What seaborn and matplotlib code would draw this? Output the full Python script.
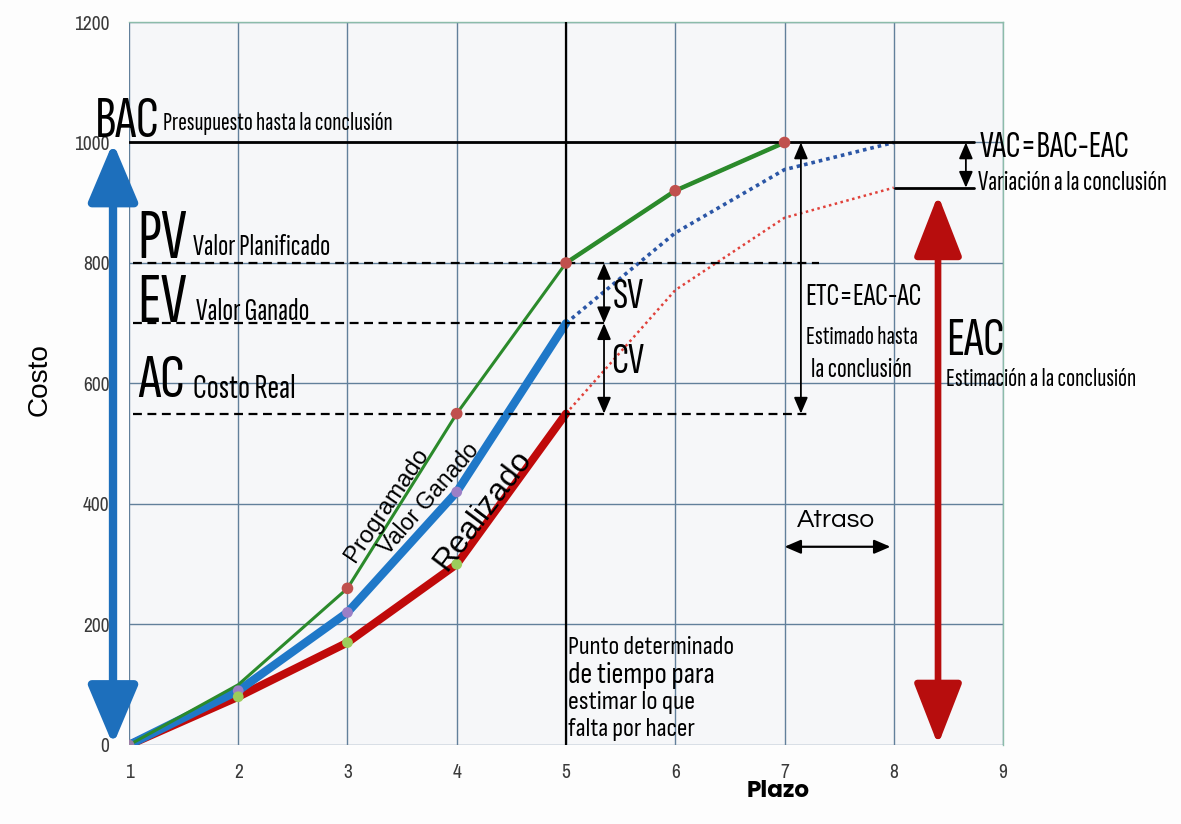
import matplotlib
matplotlib.use("Agg")
import matplotlib.pyplot as plt
import seaborn as sns
from matplotlib.patches import FancyArrowPatch

# ---------------- data ----------------
plazo = [1, 2, 3, 4, 5, 6, 7]
programado = [0, 100, 260, 550, 800, 920, 1000]
plazo_real = [1, 2, 3, 4, 5]
valor_ganado = [0, 90, 220, 420, 700]
realizado = [0, 80, 170, 300, 550]
plazo_proy = [5, 6, 7, 8]
ev_proyectado = [700, 850, 955, 1000]
ac_proyectado = [550, 755, 875, 925]

BAC, PV, EV, AC, EAC = 1000, 800, 700, 550, 925
x_ticks = [1, 2, 3, 4, 5, 6, 7, 8, 9]
y_ticks = [0, 200, 400, 600, 800, 1000, 1200]

# ---------------- style ----------------
sns.set_theme(style="whitegrid")
COND = ["Sofia Sans Extra Condensed", "Barlow Condensed", "DejaVu Sans"]
NARROW = ["Archivo Narrow", "PT Sans Narrow", "DejaVu Sans"]
ARIAL = ["Liberation Sans", "DejaVu Sans"]
plt.rcParams["font.family"] = COND

fig = plt.figure(figsize=(11.81, 8.24), dpi=100)
fig.patch.set_facecolor("#fdfdfd")
ax = fig.add_axes([0.1092, 0.0959, 0.7401, 0.8774])
ax.set_facecolor("#f6f7f9")
ax.set_xlim(1, 9)
ax.set_ylim(0, 1200)
ax.set_xticks(x_ticks)
ax.set_yticks(y_ticks)
ax.grid(True, color="#62809b", lw=1.0)
for k, s in ax.spines.items():
    s.set_visible(k in ("top", "right"))
    s.set_color("#8cbcaa")
    s.set_linewidth(1.0)
ax.tick_params(axis="both", length=0, labelsize=14, labelcolor="#3a3a3a")
for lab in ax.get_xticklabels() + ax.get_yticklabels():
    lab.set_family(NARROW)
ax.tick_params(axis="x", pad=13)
ax.tick_params(axis="y", pad=14)

GREEN = "#2b8a2b"
BLUE = "#1f78c8"
RED = "#c00a0a"

# projected (dotted)
sns.lineplot(x=plazo_proy, y=ev_proyectado, ax=ax, color="#2b56a6", lw=2.6,
             linestyle=(0, (1, 1.1)), zorder=3)
sns.lineplot(x=plazo_proy, y=ac_proyectado, ax=ax, color="#e0413a", lw=1.8,
             linestyle=(0, (1, 1.4)), zorder=3)
# actual
sns.lineplot(x=plazo_real, y=realizado, ax=ax, color=RED, lw=5.8, zorder=4)
sns.lineplot(x=plazo_real, y=valor_ganado, ax=ax, color=BLUE, lw=6, zorder=5)
sns.lineplot(x=plazo, y=programado, ax=ax, color=GREEN, lw=2.2, zorder=6)
sns.lineplot(x=plazo[4:], y=programado[4:], ax=ax, color=GREEN, lw=3.2, zorder=6)

# markers
sns.scatterplot(x=plazo[2:], y=programado[2:], ax=ax, color="#c0504d", s=70,
                edgecolor="none", zorder=7)
sns.scatterplot(x=plazo_real[1:4], y=valor_ganado[1:4], ax=ax, color="#9b7fc6", s=60,
                edgecolor="none", zorder=7)
sns.scatterplot(x=plazo_real[1:4], y=realizado[1:4], ax=ax, color="#9ccc5c", s=60,
                edgecolor="none", zorder=7)
sns.scatterplot(x=plazo_real[:1], y=realizado[:1], ax=ax, color="#9b7fa6", s=60,
                edgecolor="none", zorder=7)

# reference lines
ax.plot([1.0, 8.735], [BAC, BAC], color="black", lw=2, zorder=6)
ax.plot([8.01, 8.73], [EAC, EAC], color="black", lw=2, zorder=6)
ax.plot([1.04, 7.32], [PV, PV], color="black", lw=1.6, dashes=(4, 2.5), zorder=6)
ax.plot([1.04, 5.375], [EV, EV], color="black", lw=1.6, dashes=(4, 2.5), zorder=6)
ax.plot([1.04, 7.24], [AC, AC], color="black", lw=1.6, dashes=(4, 2.5), zorder=6)
ax.plot([5, 5], [0, 1200], color="black", lw=1.6, zorder=6)


def darrow(x0, y0, x1, y1, color="black", lw=1.3, hl=0.7, hw=0.3, ms=14):
    a = FancyArrowPatch((x0, y0), (x1, y1),
                        arrowstyle=f"<|-|>,head_length={hl},head_width={hw}",
                        mutation_scale=ms, color=color, lw=lw, clip_on=False,
                        shrinkA=0, shrinkB=0, zorder=8)
    ax.add_patch(a)


# big arrows
darrow(0.854, 0, 0.854, BAC, color="#1d6fbc", lw=6, hl=1.8, hw=0.76, ms=20)
darrow(8.405, 0, 8.405, 913, color="#b70d0d", lw=4.8, hl=1.9, hw=0.74, ms=20)
# small arrows
darrow(5.348, PV, 5.348, EV)
darrow(5.348, EV, 5.348, AC)
darrow(7.15, BAC, 7.15, AC)
darrow(8.66, BAC, 8.66, EAC)
darrow(7.0, 329, 7.97, 329, lw=1.6)

# ---------------- texts ----------------
renderer = fig.canvas.get_renderer()


def txt(x, y, s, width, fs=20, rot=0, **kw):
    opts = dict(color="black", clip_on=False, zorder=9, ha="left", va="center")
    opts.update(kw)
    t = ax.text(x, y, s, fontsize=fs, **opts)
    bb = t.get_window_extent(renderer)
    t.set_fontsize(fs * width / bb.width)
    if rot:
        t.set_rotation(rot)
    return t


txt(0.689, 1009, "BAC", 65, va="baseline")
txt(1.311, 1021, "Presupuesto hasta la conclusión", 229, va="baseline")
txt(1.073, 808, "PV", 50, va="baseline")
txt(1.586, 813, "Valor Planificado", 137, va="baseline")
txt(1.073, 702, "EV", 50, va="baseline")
txt(1.613, 705, "Valor Ganado", 113, va="baseline")
txt(1.082, 578, "AC", 47, va="baseline")
txt(1.586, 576, "Costo Real", 102, va="baseline")

txt(5.43, 744, "SV", 31)
txt(5.412, 636, "CV", 33)
txt(7.188, 744, "ETC=EAC-AC", 117)
txt(7.197, 677, "Estimado hasta", 112)
txt(7.243, 622, "la conclusión", 101)
txt(8.478, 669, "EAC", 59)
txt(8.478, 606, "Estimación a la conclusión", 190)
txt(8.789, 991, "VAC=BAC-EAC", 150)
txt(8.771, 933, "Variación a la conclusión", 188)
txt(7.471, 372, "Atraso", 78, ha="center", family=["Questrial", "DejaVu Sans"])

punto = ["Punto determinado", "de tiempo para", "estimar lo que", "falta por hacer"]
punto_y = [161, 115, 70, 25]
punto_w = [165, 146, 127, 127]
punto_b = ["normal", "bold", "normal", "normal"]
for s, yy, w, b in zip(punto, punto_y, punto_w, punto_b):
    txt(5.018, yy, s, w, fontweight=b,
        family=["Sofia Sans Condensed", "Barlow Condensed", "DejaVu Sans"])

txt(3.36, 398, "Programado", 132, rot=56, ha="center", family=ARIAL)
txt(3.75, 408, "Valor Ganado", 140, rot=49, ha="center", family=ARIAL)
txt(4.24, 390, "Realizado", 142, rot=53, ha="center", family=ARIAL)

txt(6.94, -78, "Plazo", 63, ha="center", fontweight="bold",
    family=["Poppins", "DejaVu Sans"])
tc = ax.text(0.18, 606, "Costo", fontsize=20, ha="center", va="center", clip_on=False,
             family=ARIAL, color="black")
bb = tc.get_window_extent(renderer)
tc.set_fontsize(20 * 73 / bb.width)
tc.set_rotation(90)
ax.set_xlabel("")
ax.set_ylabel("")

fig.savefig("out.png", dpi=100, facecolor=fig.get_facecolor())
